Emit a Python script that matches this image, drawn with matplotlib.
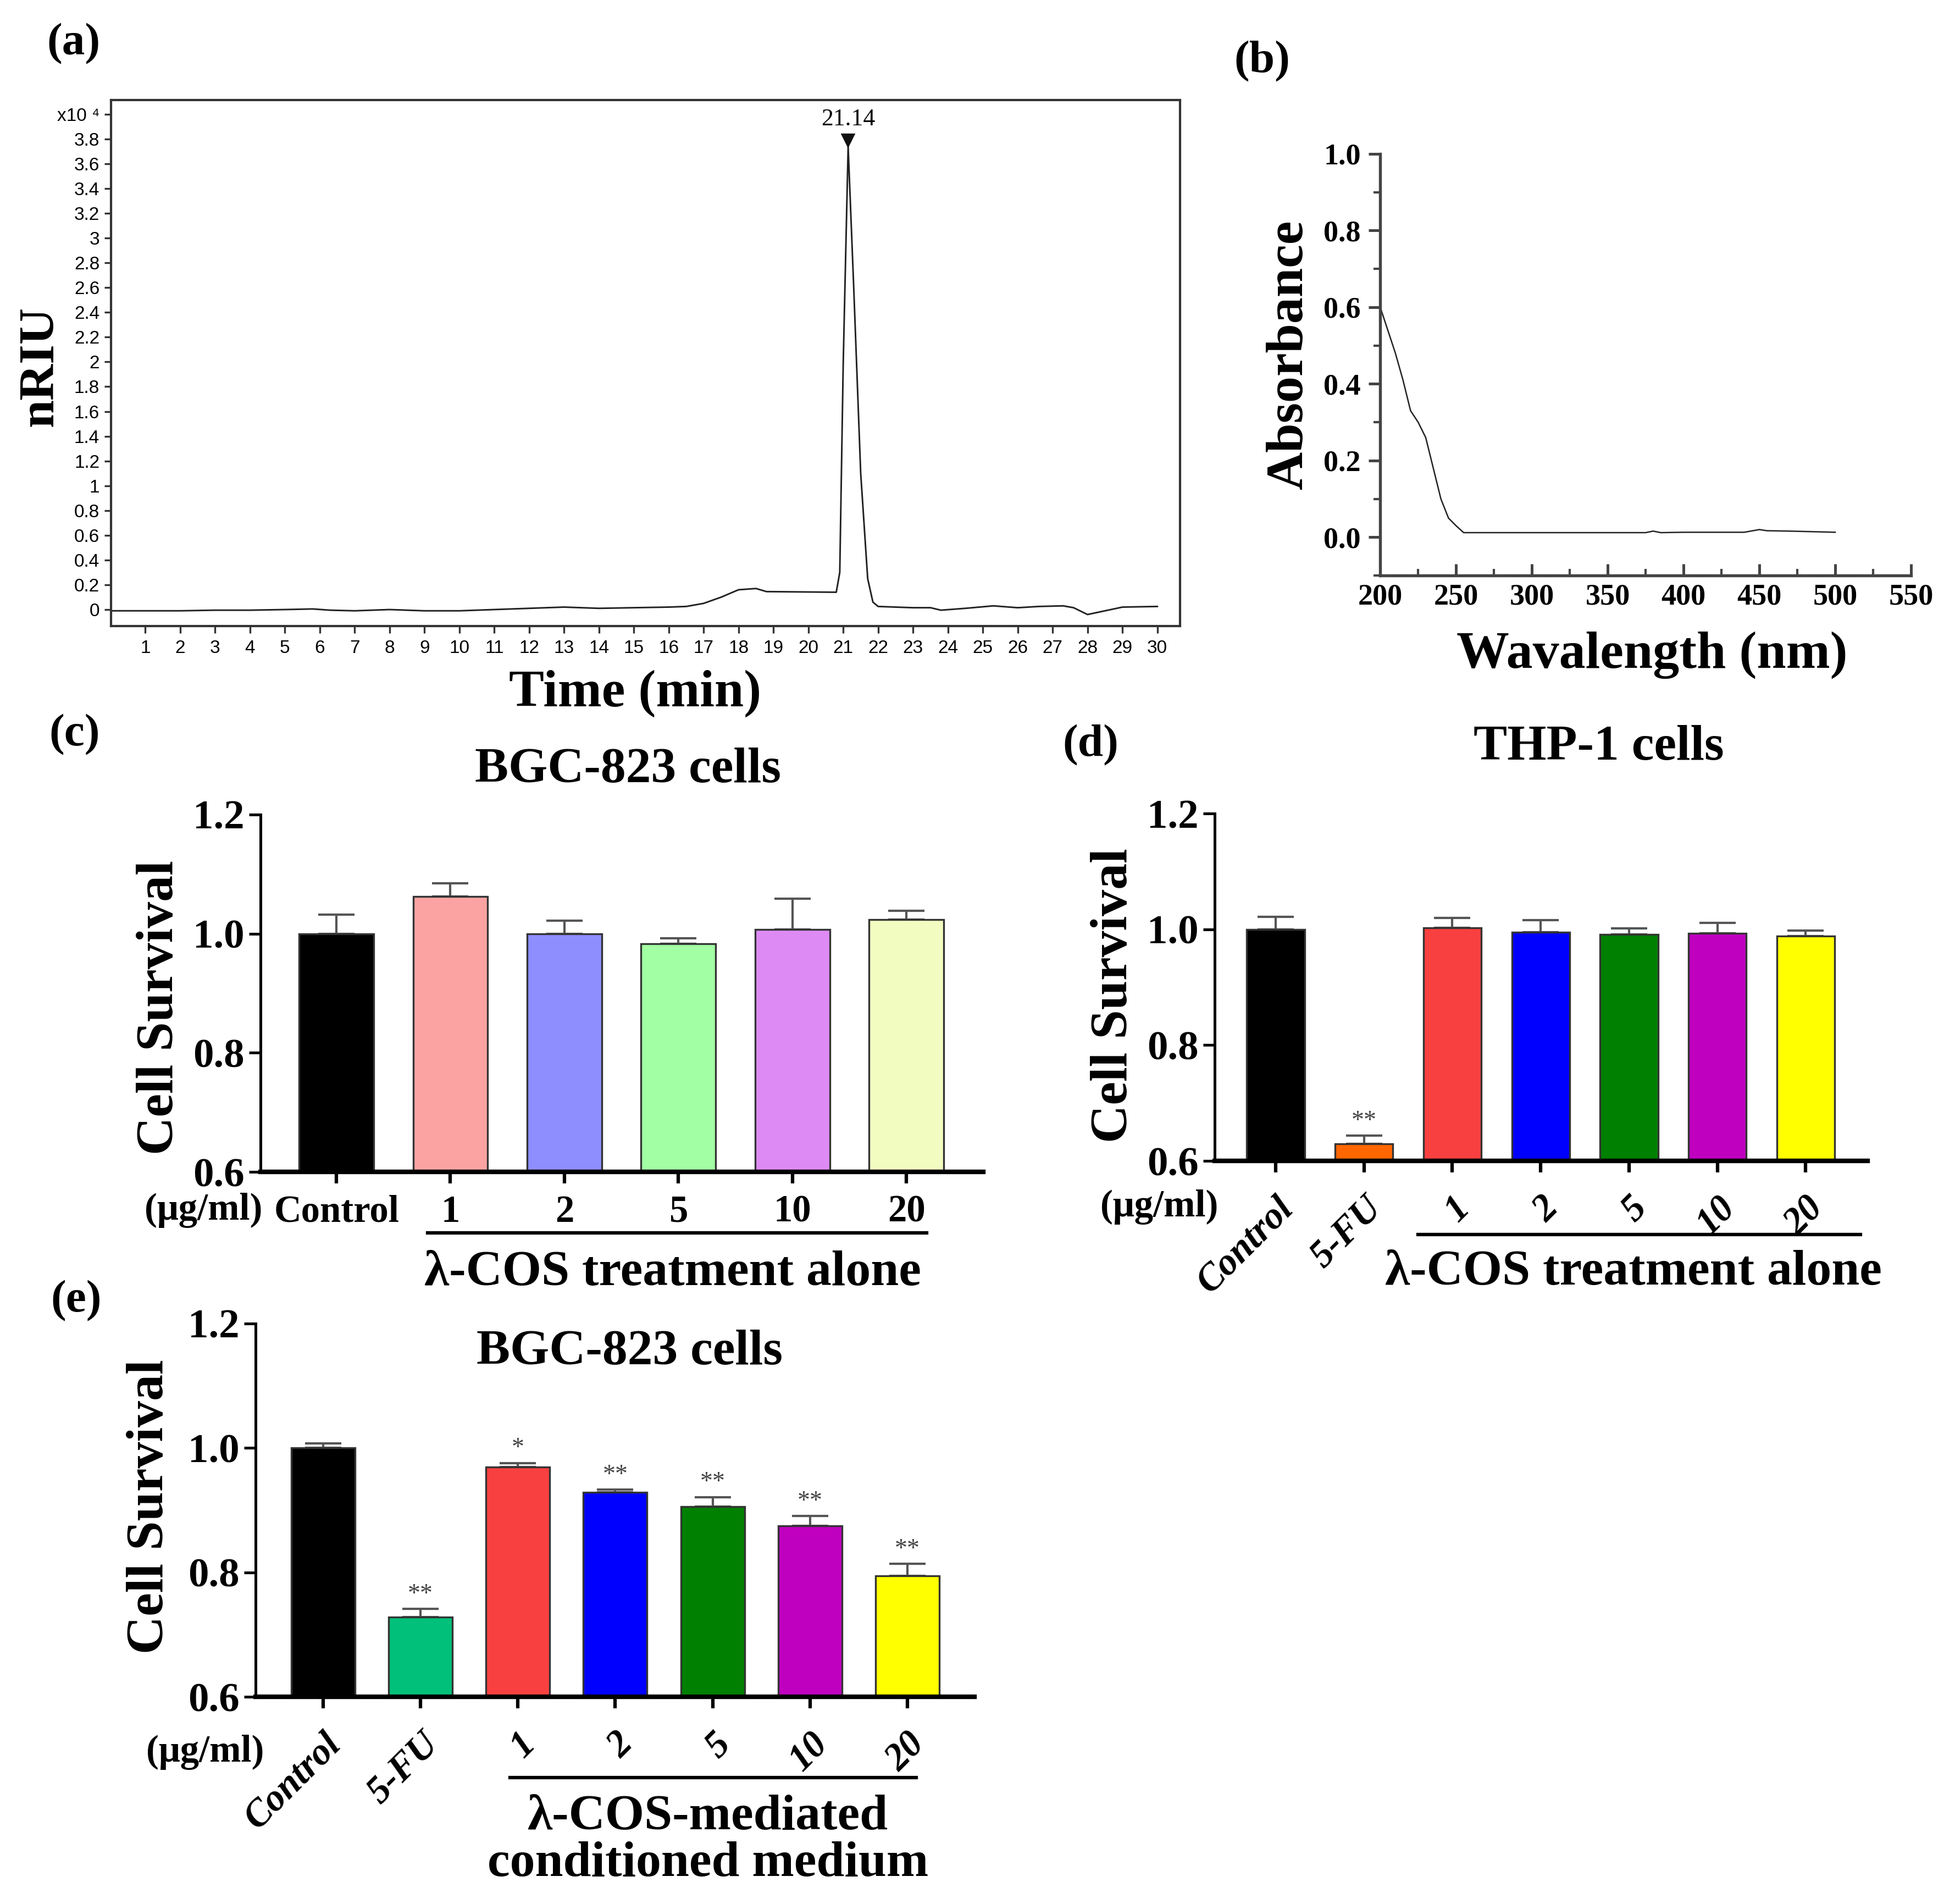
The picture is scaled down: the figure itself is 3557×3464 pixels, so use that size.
import matplotlib
matplotlib.use("Agg")
import matplotlib.pyplot as plt
import matplotlib.transforms as mtransforms
from matplotlib.ticker import MultipleLocator, FormatStrFormatter

plt.rcParams["font.family"] = ["Liberation Serif", "DejaVu Serif"]
plt.rcParams["mathtext.fontset"] = "stix"

# ---- (a) HPLC chromatogram, nRIU in units of 1e4 ----
hplc_time = [0.05, 1, 2, 3, 4, 5, 5.8, 6.3, 7, 8, 9, 10, 11, 12, 13, 14, 15, 16, 16.5,
             17, 17.5, 18, 18.5, 18.8, 20.8, 20.9, 21.0, 21.14, 21.3, 21.5, 21.7,
             21.85, 22.0, 23, 23.5, 23.8, 24.5, 25.3, 26, 26.6, 27.3, 27.6, 28.0,
             28.5, 29, 30]
hplc_signal = [-0.01, -0.01, -0.01, -0.005, -0.005, 0.0, 0.005, -0.005, -0.01, 0.0,
               -0.01, -0.01, 0.0, 0.01, 0.02, 0.01, 0.015, 0.02, 0.025, 0.05, 0.1,
               0.16, 0.17, 0.145, 0.14, 0.3, 2.0, 3.74, 2.6, 1.1, 0.25, 0.06, 0.025,
               0.015, 0.015, -0.005, 0.01, 0.03, 0.015, 0.025, 0.03, 0.015, -0.04,
               -0.01, 0.02, 0.025]
peak_time = 21.14
peak_label = "21.14"

# ---- (b) UV spectrum ----
uv_wavelength = [200, 205, 210, 215, 220, 225, 230, 235, 240, 245, 250, 255, 260,
                 300, 350, 375, 380, 385, 400, 440, 450, 455, 470, 500]
uv_absorbance = [0.60, 0.54, 0.48, 0.41, 0.33, 0.30, 0.26, 0.18, 0.10, 0.05, 0.03,
                 0.012, 0.012, 0.012, 0.012, 0.012, 0.016, 0.012, 0.013, 0.013,
                 0.02, 0.017, 0.016, 0.013]

# ---- (c) BGC-823, lambda-COS alone ----
c_labels = ["Control", "1", "2", "5", "10", "20"]
c_values = [1.0, 1.062, 1.0, 0.983, 1.007, 1.024]
c_errors = [0.032, 0.023, 0.022, 0.009, 0.052, 0.014]
c_colors = ["#000000", "#FBA3A3", "#8E8EFF", "#A3FFA3", "#DE8AF5", "#F3FCC0"]

# ---- (d) THP-1, lambda-COS alone ----
d_labels = ["Control", "5-FU", "1", "2", "5", "10", "20"]
d_values = [1.0, 0.6295, 1.003, 0.995, 0.991, 0.993, 0.988]
d_errors = [0.022, 0.014, 0.017, 0.021, 0.011, 0.018, 0.010]
d_stars = ["", "**", "", "", "", "", ""]
d_colors = ["#000000", "#FF6600", "#F94040", "#0000FF", "#008000", "#BF00BF", "#FFFF00"]

# ---- (e) BGC-823, conditioned medium ----
e_labels = ["Control", "5-FU", "1", "2", "5", "10", "20"]
e_values = [1.0, 0.728, 0.9696, 0.929, 0.906, 0.8746, 0.7947]
e_errors = [0.007, 0.013, 0.006, 0.004, 0.015, 0.016, 0.019]
e_stars = ["", "**", "*", "**", "**", "**", "**"]
e_colors = ["#000000", "#00C07A", "#F94040", "#0000FF", "#008000", "#BF00BF", "#FFFF00"]

fig = plt.figure(figsize=(3557 / 300, 3464 / 300), dpi=300)

# ================= (a) =================
ax = fig.add_axes([0.0568, 0.6712, 0.6036 - 0.0568, 0.9475 - 0.6712])
ax.plot(hplc_time, hplc_signal, color="#222222", lw=0.7)
ax.plot([peak_time], [3.79], marker="v", color="#111111", markersize=5)
ax.text(peak_time, 3.87, peak_label, ha="center", va="bottom", fontsize=10.5,
        family=["Liberation Serif"])
ax.set_xlim(0.02, 30.65)
ax.set_ylim(-0.133, 4.115)
yt = [i * 0.2 for i in range(20)] + [4.0]
ax.set_yticks(yt)
ylab = ["%g" % round(v, 1) for v in yt[:-1]] + ["x10 \u2074"]
ax.set_yticklabels(ylab)
ax.set_xticks(range(1, 31))
ax.tick_params(labelsize=8, length=3, width=0.8, pad=2, color="#333333")
for lab in ax.get_xticklabels() + ax.get_yticklabels():
    lab.set_family(["Liberation Sans Narrow", "Liberation Sans"])
ax.tick_params(axis="x", pad=3)
for s in ax.spines.values():
    s.set_color("#333333")
    s.set_linewidth(1.0)
fig.text(0.0206, 0.8075, "nRIU", rotation=90, ha="center", va="center",
         fontsize=22, weight="bold")
fig.text(0.325, 0.6357, "Time (min)", ha="center", va="center", fontsize=23, weight="bold")

# ================= (b) =================
ax = fig.add_axes([0.706, 0.6977, 0.9775 - 0.706, 0.9192 - 0.6977])
ax.plot(uv_wavelength, uv_absorbance, color="#222222", lw=0.6)
ax.set_xlim(200, 550)
ax.set_ylim(-0.1, 1.0)
ax.spines["top"].set_visible(False)
ax.spines["right"].set_visible(False)
for s in ["left", "bottom"]:
    ax.spines[s].set_color("#444444")
    ax.spines[s].set_linewidth(1.3)
ax.xaxis.set_major_locator(MultipleLocator(50))
ax.xaxis.set_minor_locator(MultipleLocator(25))
ax.yaxis.set_major_locator(MultipleLocator(0.2))
ax.yaxis.set_minor_locator(MultipleLocator(0.1))
ax.yaxis.set_major_formatter(FormatStrFormatter("%.1f"))
ax.set_yticks([0.0, 0.2, 0.4, 0.6, 0.8, 1.0])
ax.tick_params(axis="y", which="major", direction="out", length=5, width=1.2, color="#444444")
ax.tick_params(axis="y", which="minor", direction="out", length=3, width=1.0, color="#444444")
ax.tick_params(axis="x", which="major", direction="in", length=5, width=1.2, color="#444444")
ax.tick_params(axis="x", which="minor", direction="in", length=3, width=1.0, color="#444444")
ax.tick_params(labelsize=13)
for lab in ax.get_xticklabels() + ax.get_yticklabels():
    lab.set_weight("bold")
fig.text(0.6596, 0.8135, "Absorbance", rotation=90, ha="center", va="center",
         fontsize=23, weight="bold")
fig.text(0.845, 0.656, "Wavalength (nm)", ha="center", va="center", fontsize=23,
         weight="bold")


def bar_panel(rect, labels, values, errors, colors, stars, rotate, title, title_xy,
              ylab_xy, unit_xy, line_x, line_y, group_text, group_xy, xlim):
    ax = fig.add_axes(rect)
    x = list(range(len(values)))
    ax.bar(x, values, width=0.655, color=colors, edgecolor="#333333", linewidth=0.8,
           bottom=0, zorder=2)
    ax.errorbar(x, values, yerr=[[0] * len(errors), errors], fmt="none",
                ecolor="#555555", elinewidth=1.0, capsize=8, capthick=1.0, zorder=1)
    for xi, v, e, st in zip(x, values, errors, stars):
        if st:
            ax.text(xi, v + e + 0.004, st, ha="center", va="bottom", fontsize=11,
                    color="#444444")
    ax.set_ylim(0.6, 1.2)
    ax.set_xlim(*xlim)
    ax.set_yticks([0.6, 0.8, 1.0, 1.2])
    ax.yaxis.set_major_formatter(FormatStrFormatter("%.1f"))
    ax.spines["top"].set_visible(False)
    ax.spines["right"].set_visible(False)
    ax.spines["left"].set_linewidth(1.2)
    ax.spines["bottom"].set_linewidth(2.0)
    ax.tick_params(axis="y", length=5, width=1.2, labelsize=18, pad=2)
    ax.tick_params(axis="x", length=5, width=1.5, labelsize=16.5, pad=5)
    ax.set_xticks(x)
    if rotate:
        ax.set_xticklabels(labels, rotation=45, ha="right", rotation_mode="anchor",
                           style="italic", weight="bold")
        ax.tick_params(axis="x", pad=8)
    else:
        ax.set_xticklabels(labels, weight="bold")
    for lab in ax.get_yticklabels():
        lab.set_weight("bold")
    ax.text(title_xy[0], title_xy[1], title, transform=ax.transAxes, ha="center",
            va="center", fontsize=22, weight="bold")
    ax.text(ylab_xy[0], ylab_xy[1], "Cell Survival", transform=ax.transAxes,
            rotation=90, ha="center", va="center", fontsize=23, weight="bold")
    ax.text(unit_xy[0], unit_xy[1], "(\u03bcg/ml)", transform=ax.transAxes,
            ha="center", va="center", fontsize=16.5, weight="bold")
    trans = mtransforms.blended_transform_factory(ax.transData, ax.transAxes)
    ax.plot(line_x, [line_y, line_y], color="black", lw=1.5, transform=trans,
            clip_on=False)
    ax.text(group_xy[0], group_xy[1], group_text, transform=trans, ha="center",
            va="center", fontsize=22, weight="bold", linespacing=1.05)
    return ax


# ================= (c) =================
bar_panel([0.1333, 0.3845, 0.503 - 0.1333, 0.5722 - 0.3845], c_labels, c_values,
          c_errors, c_colors, [""] * 6, False, "BGC-823 cells", (0.508, 1.125),
          (-0.139, 0.46), (-0.079, -0.108), [0.8, 5.18], -0.171,
          "\u03bb-COS treatment alone", (2.95, -0.283), (-0.665, 5.675))

# ================= (d) =================
bar_panel([0.6213, 0.3903, 0.9553 - 0.6213, 0.5727 - 0.3903], d_labels, d_values,
          d_errors, d_colors, d_stars, True, "THP-1 cells", (0.588, 1.19),
          (-0.154, 0.476), (-0.085, -0.133), [1.61, 6.62], -0.212,
          "\u03bb-COS treatment alone", (4.05, -0.321), (-0.69, 6.7))

# ================= (e) =================
bar_panel([0.1307, 0.1088, 0.4985 - 0.1307, 0.3049 - 0.1088], e_labels, e_values,
          e_errors, e_colors, e_stars, True, "BGC-823 cells", (0.52, 0.923),
          (-0.147, 0.51), (-0.07, -0.149), [1.92, 6.09], -0.2165,
          "\u03bb-COS-mediated\nconditioned medium", (3.95, -0.385), (-0.694, 6.69))

# panel letters
for lx, ly, t in [(0.0377, 0.977, "(a)"), (0.6455, 0.9676, "(b)"), (0.038, 0.614, "(c)"),
                  (0.558, 0.6085, "(d)"), (0.039, 0.3167, "(e)")]:
    fig.text(lx, ly, t, ha="center", va="center", fontsize=20, weight="bold")

fig.savefig("out.png", dpi=300)
